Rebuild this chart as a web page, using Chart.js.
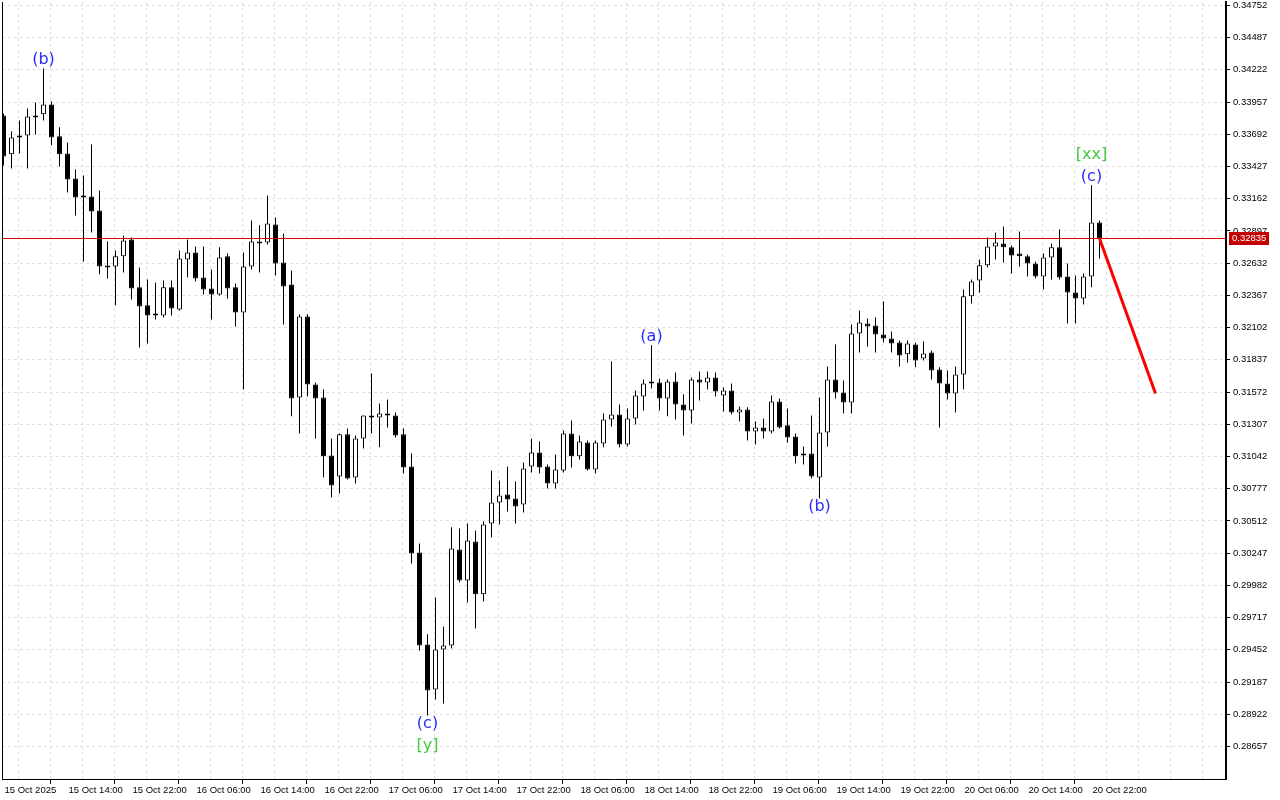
<!DOCTYPE html>
<html>
<head>
<meta charset="utf-8">
<script src="https://cdn.jsdelivr.net/npm/chart.js@4.4.0/dist/chart.umd.min.js"></script>
<style>
  html, body { margin: 0; padding: 0; background: #ffffff; }
  #contenedor { width: 1280px; height: 800px; position: relative; }
</style>
</head>
<body>
<div id="contenedor"><canvas id="graficoVelas"></canvas></div>
<script>
// Velas H1, desde 15 Oct 2025 06:00 hasta 20 Oct 2025 23:00
const aperturas = [
  0.33847, 0.33527, 0.33666, 0.33683, 0.33831, 0.33856, 0.33938, 0.33675, 0.33535, 0.33329,
  0.33181, 0.33181, 0.33066, 0.32605, 0.32605, 0.32688, 0.32827, 0.32433, 0.32285, 0.32211,
  0.32202, 0.32433, 0.32252, 0.32663, 0.32720, 0.32515, 0.32424, 0.32375, 0.32688, 0.32433,
  0.32227, 0.32605, 0.32803, 0.32803, 0.32951, 0.32638, 0.32457, 0.31528, 0.32194, 0.31635,
  0.31528, 0.31051, 0.30878, 0.31224, 0.30870, 0.31191, 0.31380, 0.31363, 0.31396, 0.31380,
  0.31224, 0.30960, 0.30253, 0.29496, 0.29126, 0.29455, 0.29488, 0.30278, 0.30023, 0.30343,
  0.29908, 0.30491, 0.30664, 0.30730, 0.30697, 0.30648, 0.30960, 0.31075, 0.30960, 0.30820,
  0.30927, 0.31232, 0.31043, 0.31158, 0.30936, 0.31149, 0.31347, 0.31388, 0.31141, 0.31355,
  0.31536, 0.31651, 0.31651, 0.31520, 0.31659, 0.31470, 0.31421, 0.31676, 0.31651, 0.31692,
  0.31544, 0.31585, 0.31404, 0.31429, 0.31248, 0.31281, 0.31248, 0.31495, 0.31298, 0.31207,
  0.31051, 0.31067, 0.30870, 0.31240, 0.31676, 0.31569, 0.31487, 0.32054, 0.32136, 0.32120,
  0.32046, 0.32013, 0.31980, 0.31882, 0.31964, 0.31849, 0.31898, 0.31758, 0.31643, 0.31561,
  0.31717, 0.32359, 0.32490, 0.32614, 0.32770, 0.32794, 0.32762, 0.32712, 0.32688, 0.32630,
  0.32523, 0.32679, 0.32762, 0.32523, 0.32391, 0.32342, 0.32523, 0.32967
];
const maximos = [
  0.33864, 0.33716, 0.33806, 0.33905, 0.33954, 0.34234, 0.33962, 0.33749, 0.33625, 0.33403,
  0.33354, 0.33609, 0.33230, 0.32811, 0.32737, 0.32860, 0.32844, 0.32597, 0.32498, 0.32474,
  0.32490, 0.32490, 0.32737, 0.32827, 0.32770, 0.32770, 0.32581, 0.32762, 0.32712, 0.32465,
  0.32720, 0.32984, 0.32943, 0.33189, 0.33008, 0.32877, 0.32572, 0.32211, 0.32211, 0.31651,
  0.31594, 0.31191, 0.31232, 0.31273, 0.31215, 0.31380, 0.31725, 0.31478, 0.31511, 0.31404,
  0.31273, 0.31067, 0.30327, 0.29579, 0.29883, 0.29644, 0.30459, 0.30450, 0.30491, 0.30434,
  0.30508, 0.30927, 0.30845, 0.30960, 0.30837, 0.30993, 0.31191, 0.31166, 0.30977, 0.31059,
  0.31256, 0.31339, 0.31215, 0.31174, 0.31174, 0.31396, 0.31824, 0.31470, 0.31437, 0.31585,
  0.31676, 0.31956, 0.31684, 0.31676, 0.31733, 0.31553, 0.31692, 0.31742, 0.31742, 0.31733,
  0.31610, 0.31643, 0.31454, 0.31446, 0.31330, 0.31355, 0.31544, 0.31520, 0.31437, 0.31232,
  0.31125, 0.31380, 0.31528, 0.31783, 0.31964, 0.31668, 0.32128, 0.32243, 0.32178, 0.32186,
  0.32317, 0.32071, 0.31997, 0.31997, 0.31980, 0.31988, 0.31914, 0.31775, 0.31750, 0.31783,
  0.32416, 0.32498, 0.32663, 0.32844, 0.32885, 0.32934, 0.32778, 0.32893, 0.32704, 0.32646,
  0.32712, 0.32794, 0.32910, 0.32630, 0.32531, 0.32548, 0.33272, 0.32984
];
const minimos = [
  0.33436, 0.33411, 0.33535, 0.33411, 0.33691, 0.33806, 0.33601, 0.33428, 0.33214, 0.33025,
  0.32646, 0.32885, 0.32540, 0.32507, 0.32285, 0.32556, 0.32334, 0.31939, 0.31972, 0.32169,
  0.32186, 0.32202, 0.32243, 0.32515, 0.32482, 0.32375, 0.32169, 0.32367, 0.32342, 0.32112,
  0.31594, 0.32581, 0.32556, 0.32786, 0.32531, 0.32128, 0.31372, 0.31232, 0.31536, 0.31191,
  0.30870, 0.30705, 0.30738, 0.30853, 0.30820, 0.31108, 0.31232, 0.31117, 0.31281, 0.31199,
  0.30903, 0.30162, 0.29447, 0.28912, 0.29044, 0.29011, 0.29463, 0.30006, 0.29842, 0.29628,
  0.29850, 0.30376, 0.30483, 0.30590, 0.30491, 0.30582, 0.30911, 0.30903, 0.30779, 0.30779,
  0.30911, 0.30952, 0.31018, 0.30927, 0.30903, 0.31117, 0.31289, 0.31117, 0.31125, 0.31306,
  0.31421, 0.31602, 0.31421, 0.31372, 0.31347, 0.31215, 0.31314, 0.31503, 0.31594, 0.31536,
  0.31413, 0.31388, 0.31330, 0.31174, 0.31141, 0.31191, 0.31232, 0.31273, 0.31158, 0.30985,
  0.30977, 0.30862, 0.30697, 0.31125, 0.31520, 0.31396, 0.31396, 0.31898, 0.31947, 0.31898,
  0.31980, 0.31898, 0.31783, 0.31816, 0.31775, 0.31832, 0.31676, 0.31281, 0.31511, 0.31404,
  0.31594, 0.32301, 0.32391, 0.32597, 0.32663, 0.32638, 0.32548, 0.32605, 0.32523, 0.32507,
  0.32416, 0.32498, 0.32498, 0.32136, 0.32136, 0.32293, 0.32433, 0.32671
];
const cierres = [
  0.33510, 0.33666, 0.33683, 0.33839, 0.33847, 0.33938, 0.33666, 0.33527, 0.33321, 0.33173,
  0.33173, 0.33058, 0.32605, 0.32597, 0.32688, 0.32819, 0.32424, 0.32276, 0.32202, 0.32202,
  0.32433, 0.32260, 0.32671, 0.32720, 0.32507, 0.32416, 0.32375, 0.32679, 0.32424, 0.32227,
  0.32605, 0.32811, 0.32794, 0.32959, 0.32630, 0.32441, 0.31520, 0.32194, 0.31635, 0.31520,
  0.31043, 0.30804, 0.31224, 0.30862, 0.31191, 0.31380, 0.31363, 0.31396, 0.31380, 0.31215,
  0.30952, 0.30245, 0.29488, 0.29118, 0.29455, 0.29488, 0.30286, 0.30023, 0.30352, 0.29908,
  0.30483, 0.30664, 0.30722, 0.30689, 0.30631, 0.30944, 0.31075, 0.30952, 0.30820, 0.30936,
  0.31232, 0.31043, 0.31166, 0.30936, 0.31158, 0.31347, 0.31388, 0.31141, 0.31355, 0.31544,
  0.31643, 0.31643, 0.31520, 0.31659, 0.31470, 0.31421, 0.31676, 0.31651, 0.31692, 0.31577,
  0.31585, 0.31404, 0.31429, 0.31248, 0.31281, 0.31248, 0.31495, 0.31281, 0.31199, 0.31043,
  0.31067, 0.30878, 0.31240, 0.31676, 0.31569, 0.31487, 0.32054, 0.32145, 0.32112, 0.32046,
  0.32013, 0.31972, 0.31873, 0.31972, 0.31832, 0.31890, 0.31750, 0.31643, 0.31561, 0.31717,
  0.32359, 0.32482, 0.32614, 0.32770, 0.32803, 0.32762, 0.32696, 0.32688, 0.32630, 0.32523,
  0.32679, 0.32762, 0.32515, 0.32391, 0.32342, 0.32523, 0.32967, 0.32835
];

// Etiquetas del eje de tiempo (una cada 8 velas) y del eje de precios
const etiquetasTiempo = [
  '15 Oct 2025', '15 Oct 14:00', '15 Oct 22:00', '16 Oct 06:00', '16 Oct 14:00', '16 Oct 22:00',
  '17 Oct 06:00', '17 Oct 14:00', '17 Oct 22:00', '18 Oct 06:00', '18 Oct 14:00', '18 Oct 22:00',
  '19 Oct 06:00', '19 Oct 14:00', '19 Oct 22:00', '20 Oct 06:00', '20 Oct 14:00', '20 Oct 22:00'
];
const ticksPrecio = [
  0.34752, 0.34487, 0.34222, 0.33957, 0.33692, 0.33427, 0.33162, 0.32897, 0.32632, 0.32367,
  0.32102, 0.31837, 0.31572, 0.31307, 0.31042, 0.30777, 0.30512, 0.30247, 0.29982, 0.29717,
  0.29452, 0.29187, 0.28922, 0.28657
];

// Proyeccion roja (vela inicial/final y precios)
const proyeccionVelas = [137, 144];
const proyeccionPrecios = [0.32835, 0.31561];

// Marcas de ondas de Elliott
const ondasTexto = ['(b)', '(a)', '(b)', '(c)', '[y]', '[xx]', '(c)'];
const ondasVela = [5, 81, 102, 53, 53, 136, 136];
const ondasLado = ['arriba', 'arriba', 'abajo', 'abajo', 'abajo', 'arriba', 'arriba'];
const ondasFila = [0, 0, 0, 0, 1, 1, 0];

const X_MIN = -0.1875, X_MAX = 152.8125;
const Y_MIN = 0.2838937, Y_MAX = 0.3478019;
const FUENTE_EJES = "'Liberation Sans', Arial, sans-serif";
const ultimoCierre = cierres[cierres.length - 1];

const mechas = aperturas.map((o, i) => ({ x: i, y: [minimos[i], maximos[i]] }));
const cuerpos = aperturas.map((o, i) => ({ x: i, y: [aperturas[i], cierres[i]] }));
const proyeccion = proyeccionVelas.map((v, k) => ({ x: v, y: proyeccionPrecios[k] }));
const lineaPrecio = [{ x: X_MIN, y: ultimoCierre }, { x: X_MAX, y: ultimoCierre }];

// Dibuja borde izquierdo, etiquetas de ondas y caja del precio actual
const extras = {
    id: 'extras',
    afterDatasetsDraw(chart) {
        const { ctx, chartArea, scales: { x, y } } = chart;
        ctx.save();
        ctx.strokeStyle = '#000';
        ctx.lineWidth = 1;
        ctx.beginPath();
        ctx.moveTo(chartArea.left + 0.5, chartArea.top);
        ctx.lineTo(chartArea.left + 0.5, chartArea.bottom);
        ctx.stroke();

        ctx.font = "16px 'DejaVu Sans', sans-serif";
        ctx.textAlign = 'center';
        ctx.textBaseline = 'middle';
        ondasTexto.forEach((t, k) => {
            const v = ondasVela[k];
            const px = x.getPixelForValue(v);
            let py;
            if (ondasLado[k] === 'arriba') {
                py = y.getPixelForValue(maximos[v]) - 9 - ondasFila[k] * 22;
            } else {
                py = y.getPixelForValue(minimos[v]) + 8 + ondasFila[k] * 22;
            }
            ctx.fillStyle = t.charAt(0) === '[' ? '#44c844' : '#2b2bff';
            ctx.fillText(t, px, py);
        });
        ctx.restore();
    },
    afterDraw(chart) {
        const { ctx, chartArea, scales: { y } } = chart;
        const py = Math.round(y.getPixelForValue(ultimoCierre));
        ctx.save();
        ctx.fillStyle = '#c40000';
        ctx.fillRect(chartArea.right + 3, py - 6, 40, 13);
        ctx.fillStyle = '#ffffff';
        ctx.font = '9.5px ' + FUENTE_EJES;
        ctx.textAlign = 'left';
        ctx.textBaseline = 'middle';
        ctx.fillText(ultimoCierre.toFixed(5), chartArea.right + 6, py + 0.5);
        ctx.restore();
    }
};

const ctx = document.getElementById('graficoVelas').getContext('2d');
new Chart(ctx, {
    type: 'bar',
    data: {
        datasets: [
            {
                type: 'line',
                data: proyeccion,
                borderColor: '#ff0000',
                borderWidth: 3,
                pointRadius: 0,
                order: 0
            },
            {
                type: 'line',
                data: lineaPrecio,
                borderColor: '#d00000',
                borderWidth: 1,
                pointRadius: 0,
                order: 1
            },
            {
                data: cuerpos,
                grouped: false,
                maxBarThickness: 5,
                minBarLength: 2,
                inflateAmount: 0,
                borderWidth: 1,
                borderSkipped: false,
                borderColor: '#000000',
                backgroundColor: c => cierres[c.dataIndex] >= aperturas[c.dataIndex] ? '#ffffff' : '#000000',
                order: 2
            },
            {
                data: mechas,
                grouped: false,
                maxBarThickness: 1,
                inflateAmount: 0,
                borderWidth: 0,
                backgroundColor: '#000000',
                order: 3
            }
        ]
    },
    options: {
        responsive: true,
        maintainAspectRatio: false,
        animation: false,
        events: [],
        layout: { padding: { left: 2, top: 2, right: 0, bottom: 0 } },
        plugins: {
            legend: { display: false },
            tooltip: { enabled: false }
        },
        scales: {
            x: {
                type: 'linear',
                min: X_MIN,
                max: X_MAX,
                bounds: 'data',
                offset: false,
                afterBuildTicks: s => {
                    s.ticks = [];
                    for (let i = 0; i <= 152; i += 4) s.ticks.push({ value: i - 0.125 });
                },
                afterFit: s => {
                    s.height = 21;
                    s.paddingLeft = 0;
                    s.paddingRight = 0;
                },
                grid: {
                    color: '#e0e0e0',
                    tickLength: 5,
                    tickColor: c => (c.index % 2 === 0 && c.index / 2 < etiquetasTiempo.length) ? '#000' : 'rgba(0,0,0,0)'
                },
                border: { display: true, color: '#000', width: 1, dash: [3, 3] },
                ticks: {
                    autoSkip: false,
                    maxRotation: 0,
                    minRotation: 0,
                    align: 'start',
                    padding: 1,
                    labelOffset: 2,
                    color: '#000',
                    font: { family: FUENTE_EJES, size: 9.5 },
                    callback: v => {
                        const i = Math.round(v + 0.125);
                        return (i % 8 === 0 && etiquetasTiempo[i / 8]) ? etiquetasTiempo[i / 8] : '';
                    }
                }
            },
            y: {
                type: 'linear',
                position: 'right',
                min: Y_MIN,
                max: Y_MAX,
                bounds: 'data',
                afterBuildTicks: s => {
                    s.ticks = ticksPrecio.map(v => ({ value: v }));
                },
                afterFit: s => {
                    s.width = 54;
                    s.paddingTop = 0;
                    s.paddingBottom = 0;
                },
                grid: { color: '#e0e0e0', tickLength: 4, tickColor: '#000' },
                border: { display: true, color: '#000', width: 2, dash: [3, 3] },
                ticks: {
                    padding: 3,
                    color: '#000',
                    font: { family: FUENTE_EJES, size: 9.5 },
                    callback: v => Number(v).toFixed(5)
                }
            }
        }
    },
    plugins: [extras]
});
</script>
</body>
</html>
